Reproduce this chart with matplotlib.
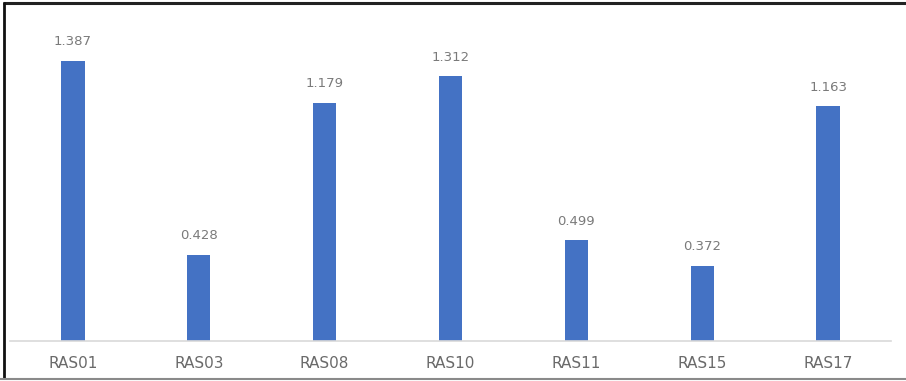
import matplotlib
matplotlib.use("Agg")
import matplotlib.pyplot as plt
from matplotlib.lines import Line2D

categories = ["RAS01", "RAS03", "RAS08", "RAS10", "RAS11", "RAS15", "RAS17"]
values = [1.387, 0.428, 1.179, 1.312, 0.499, 0.372, 1.163]

W, H = 906, 381
fig = plt.figure(figsize=(W / 100, H / 100), dpi=100)
fig.patch.set_facecolor("white")

ax = fig.add_axes([10 / W, 1 - 341 / H, 881 / W, 321 / H])
x = list(range(len(categories)))
bars = ax.bar(x, values, width=0.185, color="#4472C4", zorder=2)

ax.set_xlim(-0.5, len(categories) - 0.5)
ax.set_ylim(0, 1.59)
ax.set_yticks([])
ax.set_xticks(x)
ax.set_xticklabels(categories, fontsize=11, color="#6a6a6a", family="DejaVu Sans")
ax.tick_params(axis="x", length=0, pad=11)
for s in ("top", "right", "left"):
    ax.spines[s].set_visible(False)
ax.spines["bottom"].set_color("#d9d9d9")
ax.spines["bottom"].set_linewidth(1.2)

for xi, v in zip(x, values):
    ax.annotate(f"{v:.3f}", xy=(xi, v), xytext=(0, 9), textcoords="offset points",
                ha="center", va="bottom", fontsize=9.5, color="#7a7a7a")

# Frame around the chart area
def px_line(x0, y0, x1, y1, color, lw):
    fig.add_artist(Line2D([x0 / W, x1 / W], [1 - y0 / H, 1 - y1 / H],
                          transform=fig.transFigure, color=color, linewidth=lw,
                          solid_capstyle="butt"))

px_line(3, 3, W, 3, "#222222", 2.2)
px_line(4, 2, 4, 379, "#111111", 2.0)
px_line(0, 379, W, 379, "#8a8a8a", 1.5)

fig.savefig("out.png", dpi=100)
